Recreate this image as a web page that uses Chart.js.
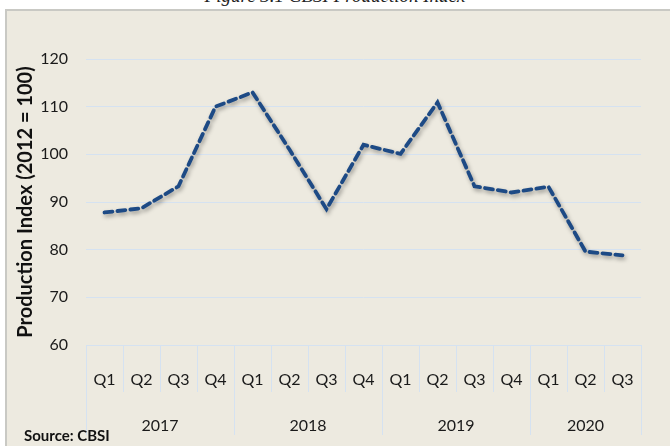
<!DOCTYPE html>
<html>
<head>
<meta charset="utf-8">
<script src="https://cdn.jsdelivr.net/npm/chart.js@4/dist/chart.umd.min.js"></script>
<style>
    html, body { margin: 0; padding: 0; background: #ffffff; }
    #wrap { position: relative; width: 670px; height: 446px; overflow: hidden; }
    #panel {
        position: absolute; left: 5px; top: 9px; right: 0; bottom: 0;
        background: #edeae0;
        border-left: 2px solid #c9c9c4;
        border-top: 2px solid #c9c9c4;
    }
    #fig-title {
        position: absolute; left: 0; width: 670px; top: -15px;
        text-align: center;
        font: italic 19px "Liberation Serif", "DejaVu Serif", serif;
        color: #222;
    }
    #source {
        position: absolute; left: 24px; top: 426px;
        font: bold 15px Lato, "Liberation Sans", sans-serif;
        color: #111;
    }
    canvas { position: absolute; left: 0; top: 0; }
</style>
</head>
<body>
<div id="wrap">
    <div id="panel"></div>
    <div id="fig-title">Figure 3.1 CBSI Production Index</div>
    <canvas id="prodChart" width="670" height="446"></canvas>
    <div id="source">Source: CBSI</div>
</div>
<script>
// 数据
const quarters = ['Q1', 'Q2', 'Q3', 'Q4', 'Q1', 'Q2', 'Q3', 'Q4', 'Q1', 'Q2', 'Q3', 'Q4', 'Q1', 'Q2', 'Q3'];
const years = ['2017', '2018', '2019', '2020'];
const quartersPerYear = [4, 4, 4, 3];
const productionIndex = [87.8, 88.7, 93.3, 110.0, 113.0, 101.0, 88.5, 102.0, 100.1, 110.9, 93.3, 92.0, 93.2, 79.6, 78.8];
const yTicks = [60, 70, 80, 90, 100, 110, 120];

const gridBlue = '#d5e2f1';
const tickFont = { family: 'Lato', size: 16 };

// 年份分组标签和分隔线
const yearGroups = {
    id: 'yearGroups',
    afterDraw(chart) {
        const ctx = chart.ctx;
        const x = chart.scales.x;
        const bottom = chart.chartArea.bottom;
        ctx.save();
        ctx.strokeStyle = gridBlue;
        ctx.lineWidth = 1;
        // 季度分隔线
        for (let i = 0; i <= quarters.length; i++) {
            const px = Math.round(x.getPixelForValue(i - 0.5)) + 0.5;
            ctx.beginPath();
            ctx.moveTo(px, bottom);
            ctx.lineTo(px, bottom + 47);
            ctx.stroke();
        }
        // 年份
        let start = 0;
        ctx.fillStyle = '#1a1a1a';
        ctx.font = '16px Lato';
        ctx.textAlign = 'center';
        ctx.textBaseline = 'middle';
        quartersPerYear.forEach((n, k) => {
            const left = Math.round(x.getPixelForValue(start - 0.5)) + 0.5;
            const right = Math.round(x.getPixelForValue(start + n - 0.5)) + 0.5;
            ctx.beginPath();
            ctx.moveTo(left, bottom);
            ctx.lineTo(left, bottom + 90);
            ctx.moveTo(right, bottom);
            ctx.lineTo(right, bottom + 90);
            ctx.stroke();
            const cx = (x.getPixelForValue(start) + x.getPixelForValue(start + n - 1)) / 2;
            ctx.fillText(years[k], cx, bottom + 81);
            start += n;
        });
        ctx.restore();
    }
};

// 线条阴影
const lineShadow = {
    id: 'lineShadow',
    beforeDatasetDraw(chart) {
        const ctx = chart.ctx;
        ctx.save();
        ctx.shadowColor = 'rgba(0, 0, 0, 0.35)';
        ctx.shadowBlur = 4;
        ctx.shadowOffsetX = 1.5;
        ctx.shadowOffsetY = 2.5;
    },
    afterDatasetDraw(chart) {
        chart.ctx.restore();
    }
};

const ctx = document.getElementById('prodChart').getContext('2d');
new Chart(ctx, {
    type: 'line',
    data: {
        labels: quarters,
        datasets: [{
            label: 'Production Index',
            data: productionIndex,
            borderColor: '#1d4a85',
            borderWidth: 3.8,
            borderDash: [8, 5],
            borderCapStyle: 'round',
            pointRadius: 0,
            tension: 0,
            fill: false
        }]
    },
    options: {
        responsive: false,
        animation: false,
        layout: {
            padding: { top: 59, right: 29, bottom: 0, left: 0 }
        },
        plugins: {
            legend: { display: false },
            tooltip: { enabled: false }
        },
        scales: {
            x: {
                offset: true,
                grid: { display: false },
                border: { display: true, color: gridBlue },
                ticks: {
                    color: '#1a1a1a',
                    font: tickFont,
                    padding: 17,
                    maxRotation: 0,
                    autoSkip: false
                },
                afterFit(scale) { scale.height = 101; }
            },
            y: {
                min: 60,
                max: 120,
                afterBuildTicks(scale) {
                    scale.ticks = yTicks.map(v => ({ value: v }));
                },
                grid: { color: gridBlue, lineWidth: 1, drawTicks: false },
                border: { display: false },
                ticks: {
                    color: '#1a1a1a',
                    font: tickFont,
                    padding: 18
                },
                title: {
                    display: true,
                    text: 'Production Index (2012 = 100)',
                    color: '#111',
                    font: { family: 'Lato', size: 20, weight: 'bold' },
                    padding: { top: 14, bottom: 0 }
                },
                afterFit(scale) { scale.width = 86; }
            }
        }
    },
    plugins: [lineShadow, yearGroups]
});
</script>
</body>
</html>
